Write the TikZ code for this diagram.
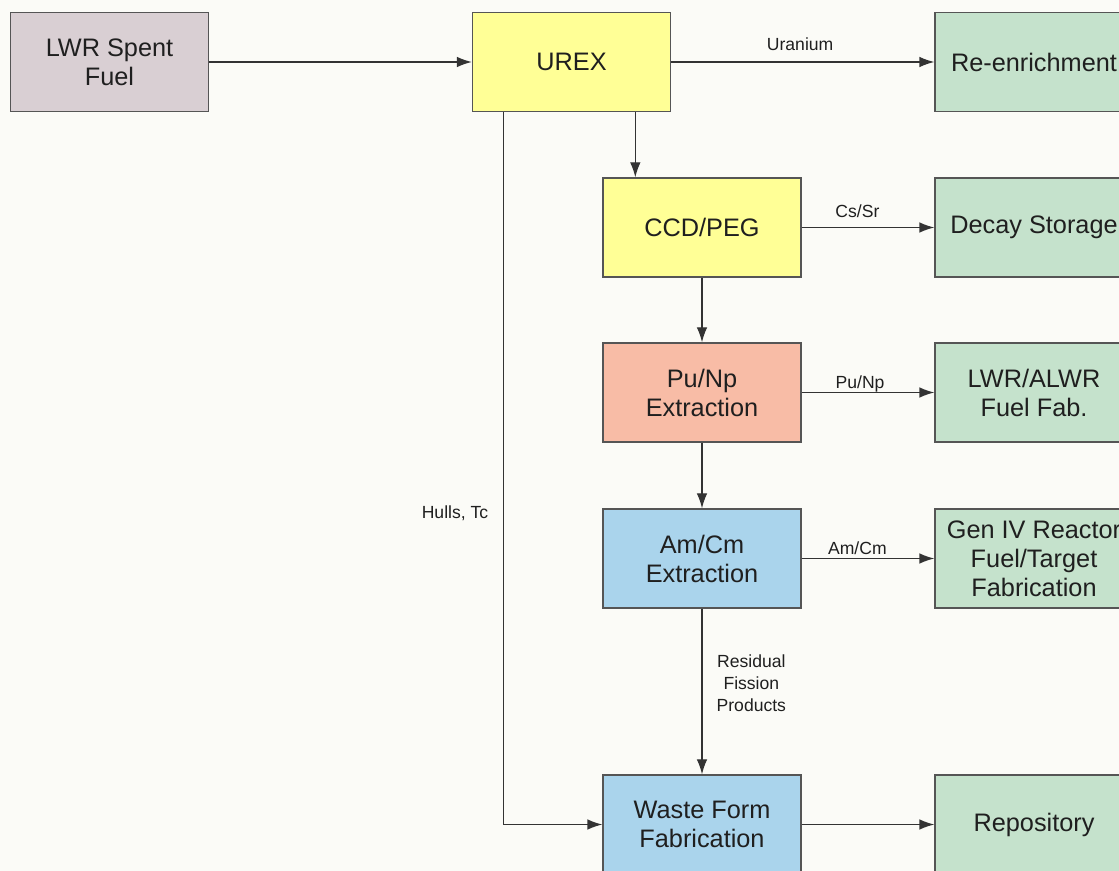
\documentclass[tikz,border=0pt]{standalone}
\usepackage{fontspec}
\setmainfont{Liberation Sans}
\usetikzlibrary{arrows.meta}
\definecolor{bgpaper}{RGB}{251,251,247}
\definecolor{fuelgray}{RGB}{217,207,211}
\definecolor{urexyellow}{RGB}{255,255,150}
\definecolor{pusalmon}{RGB}{248,188,166}
\definecolor{amblue}{RGB}{170,212,236}
\definecolor{outgreen}{RGB}{197,226,204}
\definecolor{edgegray}{RGB}{85,85,85}
\tikzset{proc/.style = {draw=edgegray, line width=0.8pt, minimum width=3.96cm, minimum height=1.98cm, inner sep=0, align=center, font=\fontsize{14.4}{16.5}\selectfont, text=black!88}}
\tikzset{flow/.style = {->, line width=0.7pt, draw=black!80}}
\tikzset{lbl/.style = {font=\fontsize{10}{12.5}\selectfont, text=black!88, inner sep=1pt, align=center}}
\tikzset{>={Latex[length=8.5pt,width=6pt]}}

\begin{document}
\begin{tikzpicture}[x=0.02cm, y=-0.02cm]
    \fill [bgpaper] (0, 0) rectangle (1119, 871);
    \clip (0, 0) rectangle (1119, 871);

    % process column
    \node [proc, fill=fuelgray] (lwr) at (109.5, 62) {LWR Spent\\Fuel};
    \node [proc, fill=urexyellow] (urex) at (571.5, 62) {UREX};
    \node [proc, fill=urexyellow] (ccd) at (702, 227.5) {CCD/PEG};
    \node [proc, fill=pusalmon] (punp) at (702, 392.5) {Pu/Np\\Extraction};
    \node [proc, fill=amblue] (amcm) at (702, 558.5) {Am/Cm\\Extraction};
    \node [proc, fill=amblue] (waste) at (702, 824.5) {Waste Form\\Fabrication};

    % destinations
    \node [proc, fill=outgreen] (reenr) at (1034, 62) {Re-enrichment};
    \node [proc, fill=outgreen] (decay) at (1034, 227.5) {Decay Storage};
    \node [proc, fill=outgreen] (lwrfab) at (1034, 392.5) {LWR/ALWR\\Fuel Fab.};
    \node [proc, fill=outgreen] (geniv) at (1034, 558.5) {Gen IV Reactor\\Fuel/Target\\Fabrication};
    \node [proc, fill=outgreen] (repo) at (1034, 824.5) {Repository};

    \draw [flow] (lwr) -- (urex);
    \draw [flow] (urex) -- node [lbl, pos=0.49, anchor=base, yshift=6.3pt] {Uranium} (reenr);
    \draw [flow] (ccd) -- node [lbl, pos=0.42, anchor=base, yshift=5.7pt] {Cs/Sr} (decay);
    \draw [flow] (punp) -- node [lbl, pos=0.44, anchor=base, yshift=2pt] {Pu/Np} (lwrfab);
    \draw [flow] (amcm) -- node [lbl, pos=0.42, anchor=base, yshift=2pt] {Am/Cm} (geniv);
    \draw [flow] (waste) -- (repo);

    \coordinate (ccdin) at ([xshift=0.66cm]ccd.north west);
    \draw [flow] (ccdin |- urex.south) -- (ccdin);
    \draw [flow] (ccd) -- (punp);
    \draw [flow] (punp) -- (amcm);
    \draw [flow] (amcm) -- node [lbl, pos=0.45, right=7pt] {Residual\\Fission\\Products} (waste);

    \coordinate (hullsout) at ([xshift=0.64cm]urex.south west);
    \draw [flow] (hullsout) |- (waste.west);
    \node [lbl] (hulls) at (455, 513) {Hulls, Tc};

\end{tikzpicture}
\end{document}
